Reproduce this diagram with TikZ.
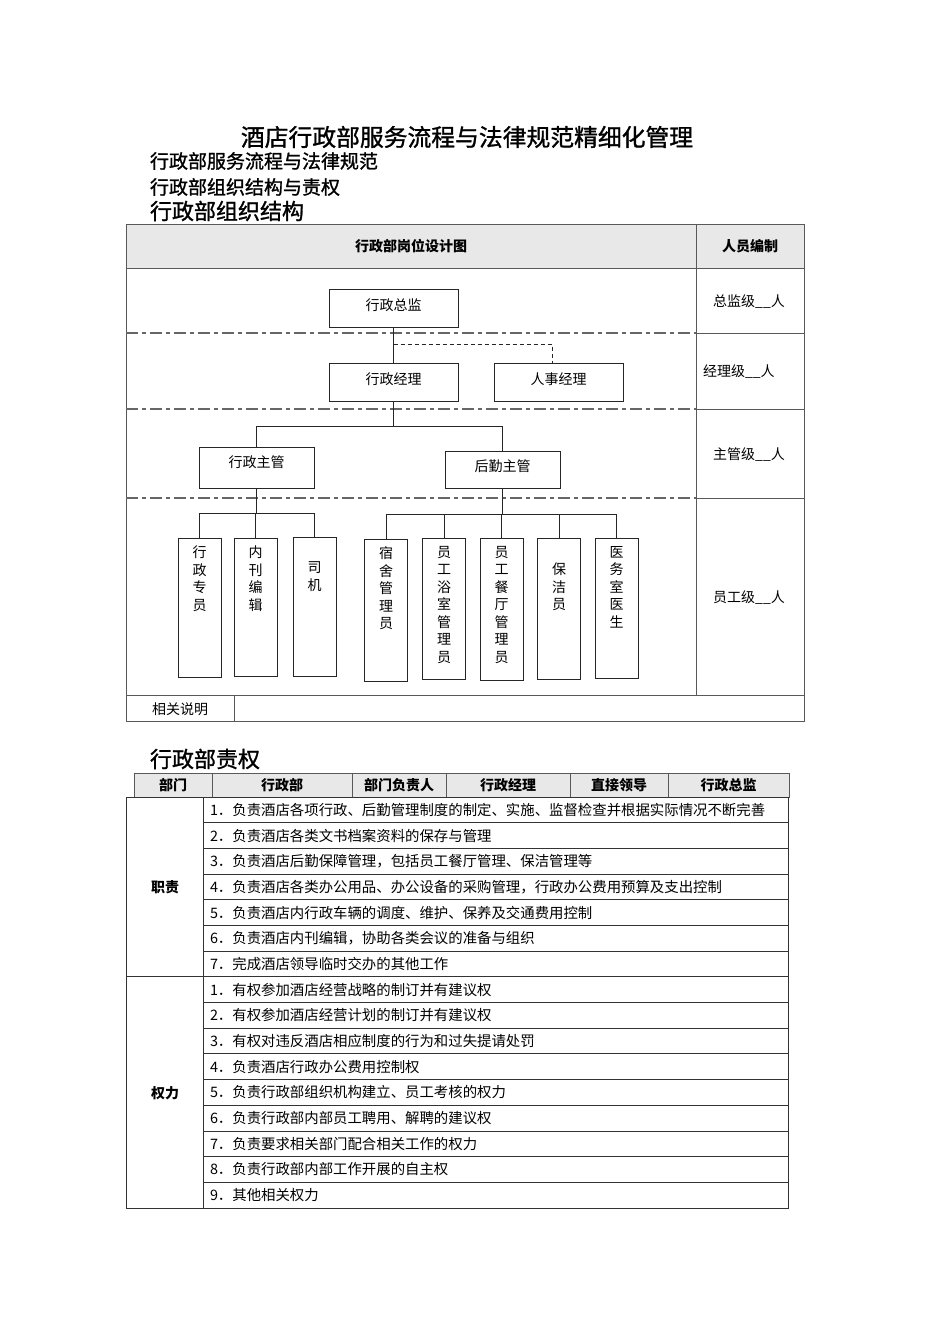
\documentclass[tikz,border=0pt]{standalone}
\usepackage{fontspec}
\setmainfont{Noto Sans CJK SC}
\newfontfamily\headfont[FakeBold=1.2]{Noto Sans CJK SC}
\usetikzlibrary{calc}
\tikzset{
  every node/.style={inner sep=0pt, outer sep=0pt},
  titlef/.style={font=\fontsize{23.8}{28}\selectfont\headfont},
  subhead/.style={font=\fontsize{19}{23}\selectfont\headfont, anchor=west},
  bighead/.style={font=\fontsize{22}{26}\selectfont\headfont, anchor=west},
  hdr/.style={font=\fontsize{14}{17}\selectfont\bfseries},
  txt/.style={font=\fontsize{14}{17}\selectfont},
  rowtxt/.style={font=\fontsize{14.4}{17}\selectfont, anchor=west},
  orgbox/.style={draw=black!85, line width=1pt, fill=white, font=\fontsize{14}{17}\selectfont},
  up3/.style={text height=12pt, text depth=8pt},
  up5/.style={text height=10pt, text depth=11pt},
  staffbox/.style={draw=black!85, line width=1pt, minimum width=43pt},
  vtext/.style={font=\fontsize{14}{17.5}\selectfont, align=center, anchor=north},
  conn/.style={draw=black!85, line width=1pt},
  dashconn/.style={conn, dash pattern=on 4pt off 3pt},
  levelline/.style={draw=black!60, line width=1.2pt, dash pattern=on 12pt off 4pt on 4pt off 4pt},
  grid/.style={draw=black!65, line width=0.9pt},
  grid2/.style={draw=black!80, line width=0.9pt},
  hdrfill/.style={fill=black!9},
}
\begin{document}
\begin{tikzpicture}[x=1pt,y=-1pt]
\useasboundingbox (0,0) rectangle (950,1344);
\fill[white] (0,0) rectangle (950,1344);

% ---------- titles ----------
\node[titlef] (title) at (467,137) {酒店行政部服务流程与法律规范精细化管理};
\node[subhead] (h1) at (150,161) {行政部服务流程与法律规范};
\node[subhead] (h2) at (150,187) {行政部组织结构与责权};
\node[bighead] (h3) at (150,211) {行政部组织结构};

% ---------- table 1 grid ----------
\filldraw[grid, hdrfill] (126,224) rectangle (804,268);
\draw[grid] (126,268) rectangle (804,721);
\draw[grid] (696,224) -- (696,695);
\draw[grid] (126,695) -- (804,695);
\draw[grid] (234,695) -- (234,721);
\draw[grid] (696,333) -- (804,333);
\draw[grid] (696,409) -- (804,409);
\draw[grid] (696,498) -- (804,498);
\draw[levelline] (126,333) -- (696,333);
\draw[levelline] (126,409) -- (696,409);
\draw[levelline] (126,498) -- (696,498);

\node[hdr] (t1h1) at (411,246) {行政部岗位设计图};
\node[hdr] (t1h2) at (750,246) {人员编制};
\node[txt] (lv1) at (749,302) {总监级\_\_人};
\node[txt, anchor=west] (lv2) at (703,372) {经理级\_\_人};
\node[txt] (lv3) at (749,455) {主管级\_\_人};
\node[txt] (lv4) at (749,598) {员工级\_\_人};
\node[txt] (note) at (180,709) {相关说明};

% ---------- org chart ----------
\node[orgbox, up3, minimum width=129pt, minimum height=38pt] (zj) at (393.5,308) {行政总监};
\node[orgbox, up3, minimum width=129pt, minimum height=38pt] (xzjl) at (393.5,382) {行政经理};
\node[orgbox, up3, minimum width=129pt, minimum height=38pt] (rsjl) at (558.5,382) {人事经理};
\node[orgbox, up5, minimum width=115pt, minimum height=41pt] (xzzg) at (256.5,467.5) {行政主管};
\node[orgbox, up3, minimum width=115pt, minimum height=37pt] (hqzg) at (502.5,469.5) {后勤主管};

\node[staffbox, minimum height=139pt] (s1) at (199.5,607.5) {};
\node[staffbox, minimum height=138pt] (s2) at (255.5,607) {};
\node[staffbox, minimum height=139pt] (s3) at (314.5,606.5) {};
\node[staffbox, minimum height=142pt] (r1) at (386,610) {};
\node[staffbox, minimum height=141pt] (r2) at (444,608.5) {};
\node[staffbox, minimum height=142pt] (r3) at (501.5,609) {};
\node[staffbox, minimum height=141pt] (r4) at (559,608.5) {};
\node[staffbox, minimum height=140pt] (r5) at (616.5,608) {};

\node[vtext] (s1t) at ($(s1.north)+(0,8)$) {行\\政\\专\\员};
\node[vtext] (s2t) at ($(s2.north)+(0,8)$) {内\\刊\\编\\辑};
\node[vtext] (s3t) at ($(s3.north)+(0,25)$) {司\\机};
\node[vtext] (r1t) at ($(r1.north)+(0,8)$) {宿\\舍\\管\\理\\员};
\node[vtext] (r2t) at ($(r2.north)+(0,8)$) {员\\工\\浴\\室\\管\\理\\员};
\node[vtext] (r3t) at ($(r3.north)+(0,8)$) {员\\工\\餐\\厅\\管\\理\\员};
\node[vtext] (r4t) at ($(r4.north)+(0,25)$) {保\\洁\\员};
\node[vtext] (r5t) at ($(r5.north)+(0,8)$) {医\\务\\室\\医\\生};

% connectors
\draw[conn] (zj.south) -- (xzjl.north);
\draw[dashconn] ($(zj.south)+(0,17)$) -| ($(rsjl.north)+(-6.5,0)$);
\draw[conn] (xzjl.south) -- ++(0,25) -| (xzzg.north);
\draw[conn] (xzjl.south) ++(0,25) -| (hqzg.north);
\draw[conn] (xzzg.south) -- ++(0,25) -| (s1.north);
\draw[conn] (xzzg.south) ++(0,25) -| (s2.north);
\draw[conn] (xzzg.south) ++(0,25) -| (s3.north);
\draw[conn] (hqzg.south) -- ++(0,26) -| (r1.north);
\draw[conn] (hqzg.south) ++(0,26) -| (r2.north);
\draw[conn] (hqzg.south) ++(0,26) -| (r3.north);
\draw[conn] (hqzg.south) ++(0,26) -| (r4.north);
\draw[conn] (hqzg.south) ++(0,26) -| (r5.north);

% ---------- table 2 ----------
\node[bighead] (h4) at (150,759) {行政部责权};
\filldraw[grid, hdrfill] (134,773) rectangle (789,797);
\foreach \xx in {212,352,446,570,668} \draw[grid] (\xx,773) -- (\xx,797);
\node[hdr] (c1) at (173,785) {部门};
\node[hdr] (c2) at (282,785) {行政部};
\node[hdr] (c3) at (399,785) {部门负责人};
\node[hdr] (c4) at (508,785) {行政经理};
\node[hdr] (c5) at (619,785) {直接领导};
\node[hdr] (c6) at (728.5,785) {行政总监};

\draw[grid2] (126,797) rectangle (788,1208);
\draw[grid2] (203,797) -- (203,1208);
\foreach \k in {1,...,15} \draw[grid2] (203,{797+\k*25.6875}) -- (788,{797+\k*25.6875});
\draw[grid2] (126,{797+7*25.6875}) -- (203,{797+7*25.6875});

\node[hdr] (zz) at (165,887) {职责};
\node[hdr] (ql) at (165,1093) {权力};

\node[rowtxt] (a1) at (210,{797+0.5*25.6875}) {1．负责酒店各项行政、后勤管理制度的制定、实施、监督检查并根据实际情况不断完善};
\node[rowtxt] (a2) at (210,{797+1.5*25.6875}) {2．负责酒店各类文书档案资料的保存与管理};
\node[rowtxt] (a3) at (210,{797+2.5*25.6875}) {3．负责酒店后勤保障管理，包括员工餐厅管理、保洁管理等};
\node[rowtxt] (a4) at (210,{797+3.5*25.6875}) {4．负责酒店各类办公用品、办公设备的采购管理，行政办公费用预算及支出控制};
\node[rowtxt] (a5) at (210,{797+4.5*25.6875}) {5．负责酒店内行政车辆的调度、维护、保养及交通费用控制};
\node[rowtxt] (a6) at (210,{797+5.5*25.6875}) {6．负责酒店内刊编辑，协助各类会议的准备与组织};
\node[rowtxt] (a7) at (210,{797+6.5*25.6875}) {7．完成酒店领导临时交办的其他工作};

\node[rowtxt] (b1) at (210,{797+7.5*25.6875}) {1．有权参加酒店经营战略的制订并有建议权};
\node[rowtxt] (b2) at (210,{797+8.5*25.6875}) {2．有权参加酒店经营计划的制订并有建议权};
\node[rowtxt] (b3) at (210,{797+9.5*25.6875}) {3．有权对违反酒店相应制度的行为和过失提请处罚};
\node[rowtxt] (b4) at (210,{797+10.5*25.6875}) {4．负责酒店行政办公费用控制权};
\node[rowtxt] (b5) at (210,{797+11.5*25.6875}) {5．负责行政部组织机构建立、员工考核的权力};
\node[rowtxt] (b6) at (210,{797+12.5*25.6875}) {6．负责行政部内部员工聘用、解聘的建议权};
\node[rowtxt] (b7) at (210,{797+13.5*25.6875}) {7．负责要求相关部门配合相关工作的权力};
\node[rowtxt] (b8) at (210,{797+14.5*25.6875}) {8．负责行政部内部工作开展的自主权};
\node[rowtxt] (b9) at (210,{797+15.5*25.6875}) {9．其他相关权力};
\end{tikzpicture}
\end{document}
